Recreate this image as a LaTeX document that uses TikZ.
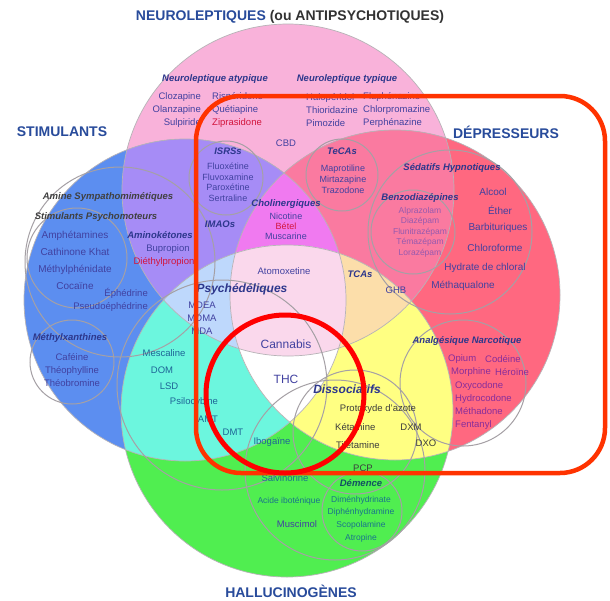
\documentclass[tikz,border=0pt]{standalone}
\usepackage{fontspec}
\setmainfont{Liberation Sans}
\usepackage{tikz}
\usetikzlibrary{positioning}

\definecolor{roseN}{RGB}{249,178,218}
\definecolor{bleuS}{RGB}{92,142,240}
\definecolor{rougeD}{RGB}{255,104,128}
\definecolor{vertH}{RGB}{80,238,80}
\definecolor{violetSN}{RGB}{166,140,246}
\definecolor{roseND}{RGB}{250,122,160}
\definecolor{cyanSH}{RGB}{108,246,222}
\definecolor{jauneDH}{RGB}{255,255,130}
\definecolor{magentaSND}{RGB}{240,122,240}
\definecolor{pecheNDH}{RGB}{252,222,170}
\definecolor{bleuSNH}{RGB}{190,216,252}
\definecolor{roseTout}{RGB}{250,216,236}
\definecolor{traitgris}{RGB}{165,160,165}
\definecolor{titrebleu}{RGB}{40,75,155}
\definecolor{titregris}{RGB}{50,50,50}
\definecolor{groupebleu}{RGB}{45,55,140}
\definecolor{droguebleu}{RGB}{65,65,160}
\definecolor{droguerouge}{RGB}{210,20,60}
\definecolor{drogueviolet}{RGB}{135,45,155}
\definecolor{benzoviolet}{RGB}{150,90,175}
\definecolor{droguecyan}{RGB}{30,100,150}
\definecolor{drogueverte}{RGB}{25,115,140}
\definecolor{droguegris}{RGB}{60,60,60}
\definecolor{cadrerouge}{RGB}{255,51,0}

\newcommand{\cercleN}{(288,190) circle[radius=166pt]}
\newcommand{\cercleS}{(185,300) circle[radius=161pt]}
\newcommand{\cercleD}{(395,295) circle[radius=165pt]}
\newcommand{\cercleH}{(287,411) circle[radius=166pt]}

\begin{document}
\begin{tikzpicture}[x=1pt,y=-1pt,
    titre/.style={font=\fontsize{14}{16}\selectfont\bfseries,text=titrebleu},
    groupe/.style={font=\fontsize{9.5}{11}\selectfont\bfseries\itshape,text=groupebleu},
    grandgroupe/.style={font=\fontsize{12}{14}\selectfont\bfseries\itshape,text=groupebleu},
    drogue/.style={font=\fontsize{9.5}{13}\selectfont,text=droguebleu,align=center},
    sousgroupe/.style={draw=traitgris,line width=1pt},
    bord/.style={draw=traitgris!80,line width=0.7pt}]
  \tikzstyle{every node}=[inner sep=0pt]

  \fill[white] (0,0) rectangle (610,600);
  \useasboundingbox (0,0) rectangle (610,600);

  % les quatre grands cercles
  \fill[roseN] \cercleN;
  \fill[bleuS] \cercleS;
  \fill[rougeD] \cercleD;
  \fill[vertH] \cercleH;
  % intersections de deux
  \begin{scope} \clip \cercleS; \fill[violetSN] \cercleN; \end{scope}
  \begin{scope} \clip \cercleN; \fill[roseND] \cercleD; \end{scope}
  \begin{scope} \clip \cercleS; \fill[cyanSH] \cercleH; \end{scope}
  \begin{scope} \clip \cercleD; \fill[jauneDH] \cercleH; \end{scope}
  % intersections de trois
  \begin{scope} \clip \cercleS; \clip \cercleN; \fill[magentaSND] \cercleD; \end{scope}
  \begin{scope} \clip \cercleN; \clip \cercleD; \fill[pecheNDH] \cercleH; \end{scope}
  \begin{scope} \clip \cercleS; \clip \cercleN; \fill[bleuSNH] \cercleH; \end{scope}
  \begin{scope} \clip \cercleS; \clip \cercleD; \fill[white] \cercleH; \end{scope}
  % les quatre
  \begin{scope} \clip \cercleS; \clip \cercleN; \clip \cercleD; \fill[roseTout] \cercleH; \end{scope}

  \draw[bord] \cercleN;
  \draw[bord] \cercleS;
  \draw[bord] \cercleD;
  \draw[bord] \cercleH;

  % sous-groupes
  \draw[sousgroupe] (226,178) circle[radius=37pt];   % ISRSs
  \draw[sousgroupe] (342,175) circle[radius=36pt];   % TeCAs
  \draw[sousgroupe] (450,232) circle[radius=82pt];   % sedatifs
  \draw[sousgroupe] (413,232) circle[radius=42pt];   % benzos
  \draw[sousgroupe] (120,262) circle[radius=95pt];   % amines
  \draw[sousgroupe] (77,258) circle[radius=50pt];    % psychomoteurs
  \draw[sousgroupe] (72,362) circle[radius=42pt];    % methylxanthines
  \draw[sousgroupe] (222,385) circle[radius=105pt];  % psychedeliques
  \draw[sousgroupe] (355,432) circle[radius=62pt];   % dissociatifs
  \draw[sousgroupe] (463,383) circle[radius=63pt];   % narcotiques
  \draw[sousgroupe] (335,470) circle[radius=90pt];   % delirants
  \draw[sousgroupe] (362,511) circle[radius=40pt];   % demence

  % titres
  \node[titre] (neuro) at (290,17) {NEUROLEPTIQUES {\color{titregris}(ou ANTIPSYCHOTIQUES)}};
  \node[titre] (stim) at (62,132) {STIMULANTS};
  \node[titre] (depr) at (506,132) {DÉPRESSEURS};
  \node[titre] (hallu) at (291,591) {HALLUCINOGÈNES};

  % neuroleptiques
  \node[groupe] (atyp) at (215,79) {Neuroleptique atypique};
  \node[drogue,align=right,anchor=east] (atypA) at (201,110) {Clozapine\\Olanzapine\\Sulpiride};
  \node[drogue,align=left,anchor=west] (atypB) at (212,110) {Rispéridone\\Quétiapine\\{\color{droguerouge}Ziprasidone}};
  \node[groupe] (typ) at (347,79) {Neuroleptique typique};
  \node[drogue,align=left,anchor=west] (typA) at (306,110) {Halopéridol\\Thioridazine\\Pimozide};
  \node[drogue,align=left,anchor=west] (typB) at (363,110) {Fluphénazine\\Chlorpromazine\\Perphénazine};
  \node[drogue] (cbd) at (286,143) {CBD};

  % antidepresseurs
  \node[groupe] (isrs) at (228,151) {ISRSs};
  \node[drogue,font=\fontsize{9}{10.5}\selectfont] (isrsL) at (228,182) {Fluoxétine\\Fluvoxamine\\Paroxétine\\Sertraline};
  \node[groupe] (imao) at (220,224) {IMAOs};
  \node[groupe] (teca) at (342,151) {TeCAs};
  \node[drogue,font=\fontsize{9}{11}\selectfont] (tecaL) at (343,179) {Maprotiline\\Mirtazapine\\Trazodone};
  \node[groupe] (amino) at (160,235) {Aminokétones};
  \node[drogue] (bupro) at (168,249) {Bupropion};
  \node[drogue,text=droguerouge] (diethyl) at (164,262) {Diéthylpropion};

  % centre
  \node[groupe] (choli) at (286,204) {Cholinergiques};
  \node[drogue,font=\fontsize{9}{10}\selectfont] (choliL) at (286,226) {Nicotine\\{\color{droguerouge}Bétel}\\Muscarine};
  \node[drogue] (atomo) at (284,271) {Atomoxetine};
  \node[groupe] (tca) at (360,274) {TCAs};
  \node[drogue] (ghb) at (396,290) {GHB};
  \node[grandgroupe] (psyche) at (242,289) {Psychédéliques};
  \node[drogue] (mdma) at (202,318) {MDEA\\MDMA\\MDA};
  \node[drogue,font=\fontsize{12}{14}\selectfont] (cannabis) at (286,344) {Cannabis};
  \node[drogue,font=\fontsize{12}{14}\selectfont] (thc) at (286,379) {THC};
  \node[grandgroupe] (dissoc) at (347,389) {Dissociatifs};

  % stimulants
  \node[groupe,text=black!75] (amines) at (108,197) {Amine Sympathomimétiques};
  \node[groupe,text=black!75] (psychomot) at (96,217) {Stimulants Psychomoteurs};
  \node[drogue,font=\fontsize{10}{17}\selectfont] (psychomotL) at (75,260) {Amphétamines\\Cathinone Khat\\Méthylphénidate\\Cocaïne};
  \node[drogue,align=right,anchor=east] (ephed) at (148,300) {Éphédrine\\Pseudoéphédrine};
  \node[groupe] (methyl) at (70,338) {Méthylxanthines};
  \node[drogue] (methylL) at (72,370) {Caféine\\Théophylline\\Théobromine};

  % depresseurs
  \node[groupe] (sedat) at (452,168) {Sédatifs Hypnotiques};
  \node[groupe] (benzo) at (420,198) {Benzodiazépines};
  \node[drogue,font=\fontsize{8.5}{10.5}\selectfont,text=benzoviolet] (benzoL) at (420,232) {Alprazolam\\Diazépam\\Flunitrazépam\\Témazépam\\Lorazépam};
  \node[drogue,font=\fontsize{10}{12}\selectfont] (alcool) at (493,192) {Alcool};
  \node[drogue,font=\fontsize{10}{12}\selectfont] (ether) at (500,210) {Éther};
  \node[drogue,font=\fontsize{10}{12}\selectfont] (barbi) at (498,228) {Barbituriques};
  \node[drogue,font=\fontsize{10}{12}\selectfont] (chloro) at (495,248) {Chloroforme};
  \node[drogue,font=\fontsize{10}{12}\selectfont] (hydrate) at (485,268) {Hydrate de chloral};
  \node[drogue,font=\fontsize{10}{12}\selectfont] (metha) at (463,286) {Méthaqualone};
  \node[groupe] (narco) at (467,341) {Analgésique Narcotique};
  \node[drogue,text=drogueviolet,anchor=west] (opium) at (448,359) {Opium};
  \node[drogue,text=drogueviolet,anchor=west] (codeine) at (485,359) {Codéine};
  \node[drogue,text=drogueviolet,anchor=west] (morphine) at (451,372) {Morphine};
  \node[drogue,text=drogueviolet,anchor=west] (heroine) at (495,372) {Héroïne};
  \node[drogue,text=drogueviolet,align=left,anchor=west] (narcoL) at (455,406) {Oxycodone\\Hydrocodone\\Méthadone\\Fentanyl};

  % psychedeliques
  \node[drogue,text=droguecyan] (mesca) at (164,353) {Mescaline};
  \node[drogue,text=droguecyan] (dom) at (162,370) {DOM};
  \node[drogue,text=droguecyan] (lsd) at (169,386) {LSD};
  \node[drogue,text=droguecyan] (psilo) at (194,402) {Psilocybine};
  \node[drogue,text=droguecyan] (amt) at (208,419) {AMT};
  \node[drogue,text=droguecyan] (dmt) at (233,432) {DMT};
  \node[drogue,text=droguecyan] (iboga) at (272,442) {Ibogaïne};

  % dissociatifs
  \node[drogue,text=droguegris] (protox) at (378,409) {Protoxyde d'azote};
  \node[drogue,text=droguegris,anchor=west] (keta) at (335,427) {Kétamine};
  \node[drogue,text=droguegris,anchor=west] (tileta) at (336,445) {Tilétamine};
  \node[drogue,text=droguegris] (dxm) at (411,427) {DXM};
  \node[drogue,text=droguegris] (dxo) at (426,443) {DXO};
  \node[drogue,text=droguegris] (pcp) at (363,468) {PCP};

  % delirants
  \node[drogue,text=drogueverte] (salvi) at (285,478) {Salvinorine};
  \node[drogue,font=\fontsize{8.5}{10}\selectfont,text=drogueverte] (ibot) at (289,501) {Acide iboténique};
  \node[drogue,text=droguebleu] (muscimol) at (297,524) {Muscimol};
  \node[groupe,text=drogueverte!70!black] (demence) at (361,483) {Démence};
  \node[drogue,font=\fontsize{8.5}{12.7}\selectfont,text=drogueverte] (demenceL) at (361,519) {Diménhydrinate\\Diphénhydramine\\Scopolamine\\Atropine};

  % annotations rouges
  \draw[cadrerouge,line width=4.5pt,rounded corners=45pt] (196,96) rectangle (605,473);
  \draw[red,line width=5pt] (285,394) circle[radius=79pt];
\end{tikzpicture}
\end{document}
